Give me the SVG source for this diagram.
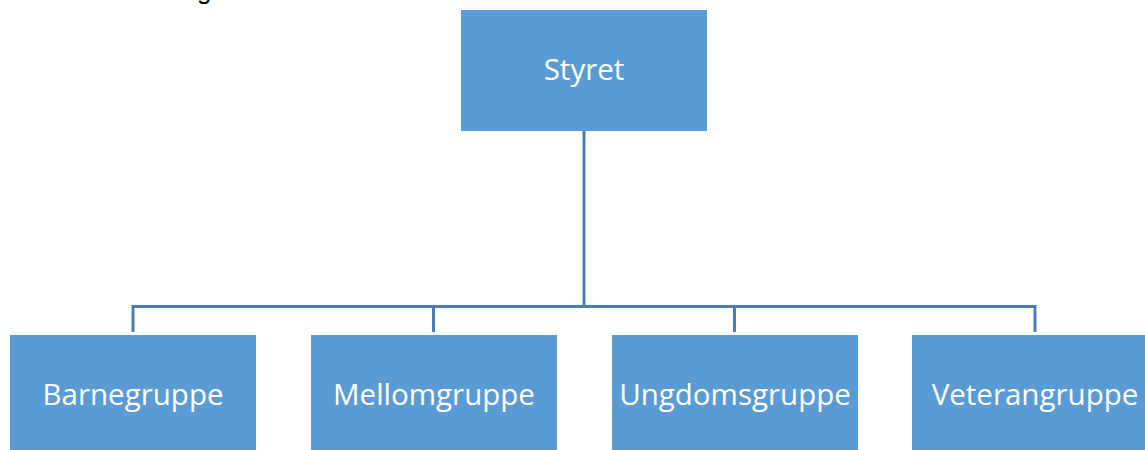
<svg xmlns="http://www.w3.org/2000/svg" width="1145" height="450" viewBox="0 0 1145 450">
<style>
.box{fill:#5B9BD5;}
.lbl{font-family:"Open Sans","Noto Sans",sans-serif;font-size:29.5px;fill:#FFFFFF;text-anchor:middle;}
.con{stroke:#4A7EB0;stroke-width:3;fill:none;}
</style>
<rect width="1145" height="450" fill="#FFFFFF"/>
<text x="197" y="-1" font-family="Liberation Sans, Arial, sans-serif" font-size="26" fill="#000000">g</text>
<g id="connectors">
<path class="con" d="M584,131 V306.5 M133,306.5 H1035 M133,305 V332 M433.5,305 V332 M734.5,305 V332 M1035,305 V332"/>
</g>
<g id="styret"><rect class="box" x="461" y="10" width="246" height="121"/><text class="lbl" x="584" y="80">Styret</text></g>
<g id="barnegruppe"><rect class="box" x="10" y="335" width="246" height="121"/><text class="lbl" x="133" y="405">Barnegruppe</text></g>
<g id="mellomgruppe"><rect class="box" x="311" y="335" width="246" height="121"/><text class="lbl" x="434" y="405">Mellomgruppe</text></g>
<g id="ungdomsgruppe"><rect class="box" x="612" y="335" width="246" height="121"/><text class="lbl" x="735" y="405">Ungdomsgruppe</text></g>
<g id="veterangruppe"><rect class="box" x="912" y="335" width="246" height="121"/><text class="lbl" x="1035" y="405">Veterangruppe</text></g>
</svg>
